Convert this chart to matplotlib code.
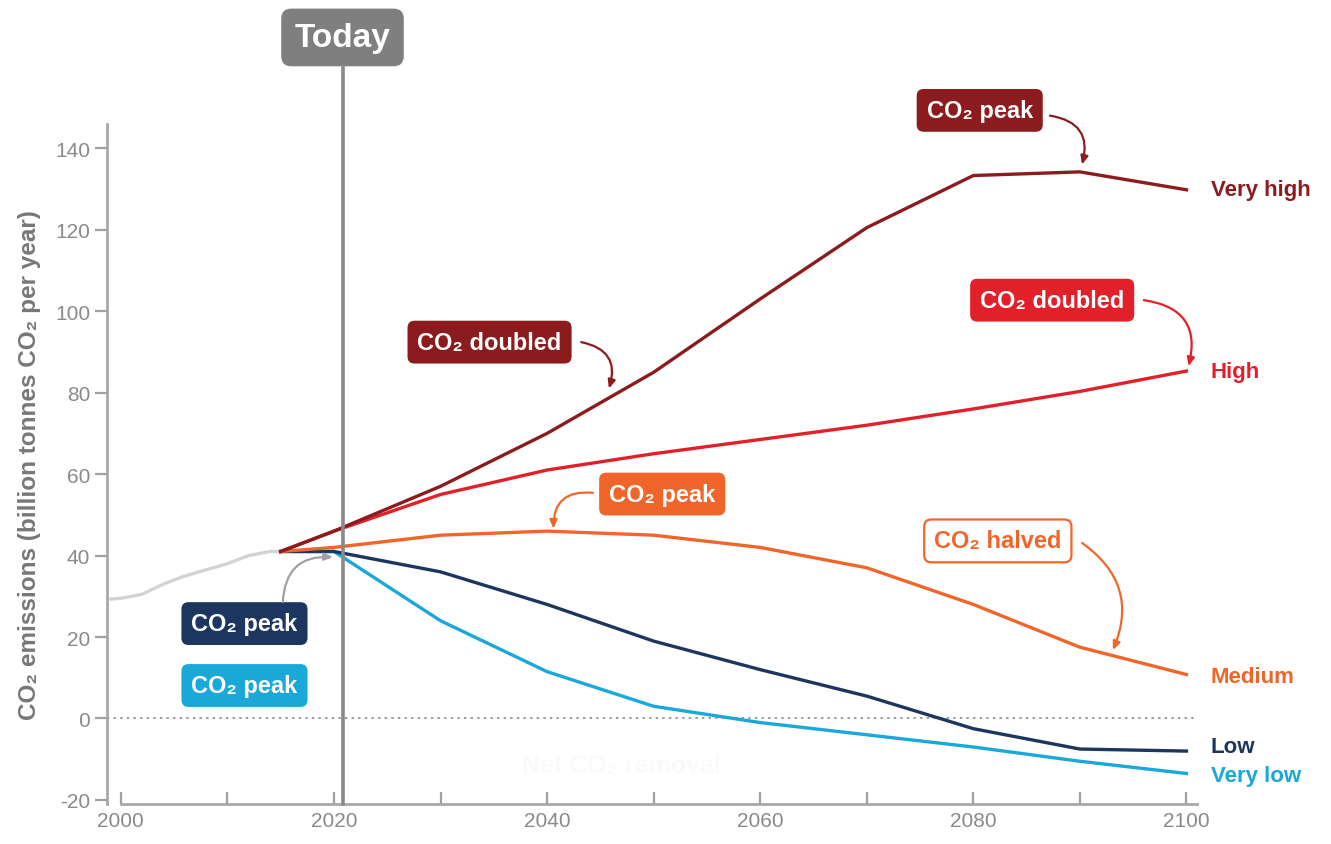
import matplotlib
matplotlib.use("Agg")
import matplotlib.pyplot as plt
from matplotlib.ticker import MultipleLocator

FONT = ['Liberation Sans Narrow', 'Liberation Sans', 'DejaVu Sans']
plt.rcParams['font.family'] = FONT
plt.rcParams['axes.unicode_minus'] = False

# ---------------- data ----------------
hist_years = [1999, 2000, 2002, 2004, 2006, 2008, 2010, 2012, 2014, 2015]
hist_vals = [29.3, 29.5, 30.5, 33.0, 35.0, 36.5, 38.0, 40.0, 41.0, 41.0]

years = [2015, 2020, 2030, 2040, 2050, 2060, 2070, 2080, 2090, 2100]
very_high = [41, 46, 57, 70, 85, 103, 120.5, 133.3, 134.2, 129.8]
high = [41, 46, 55, 61, 65, 68.5, 72, 76, 80.3, 85.3]
medium = [41, 42, 45, 46, 45, 42, 37, 28, 17.5, 10.8]
low = [41, 41, 36, 28, 19, 12, 5.5, -2.5, -7.5, -8]
very_low = [41, 41, 24, 11.5, 3, -1, -4, -7, -10.5, -13.5]

scenario_names = ['Very high', 'High', 'Medium', 'Low', 'Very low']
scenario_vals = [very_high, high, medium, low, very_low]
colors = ['#8C1B1E', '#E2202A', '#F0662A', '#1C365F', '#1AA8D8']
label_y = [129.8, 85.3, 10.3, -6.8, -14]

today_year = 2020.8
xticks = [2000, 2020, 2040, 2060, 2080, 2100]
yticks = [-20, 0, 20, 40, 60, 80, 100, 120, 140]

# ---------------- figure ----------------
fig = plt.figure(figsize=(13.31, 8.45), dpi=100)
ax = fig.add_axes([0.0804, 0.0473, 0.819, 0.805])
ax.set_xlim(1998.7, 2101)
ax.set_ylim(-21, 146)

ax.plot(hist_years, hist_vals, color='#D3D3D3', lw=2.4, solid_capstyle='round', zorder=3)
n = len(scenario_vals)
for i, (vals, c) in enumerate(zip(scenario_vals, colors)):
    ax.plot(years, vals, color=c, lw=2.4, solid_joinstyle='round', zorder=4 + (n - i) * 0.1)

for name, y, c in zip(scenario_names, label_y, colors):
    ax.text(2102.3, y, name, color=c, fontsize=16, fontweight='bold',
            ha='left', va='center', clip_on=False)

# zero line
ax.axhline(0, color='#999999', lw=1.4, ls=(0, (1.2, 2.2)), zorder=1)

# faint text
ax.text(2047, -11.5, 'Net CO₂ removal', color='#FAFAFA', fontsize=18,
        fontweight='bold', ha='center', va='center', zorder=0)

# today line
ax.plot([today_year, today_year], [-21, 160], color='#8A8A8A', lw=2.6,
        clip_on=False, zorder=5)
ax.text(today_year, 167.2, 'Today', color='white', fontsize=24, fontweight='bold',
        ha='center', va='center', clip_on=False,
        bbox=dict(boxstyle='round,pad=0.4,rounding_size=0.3', fc='#7F7F7F', ec='none'))

# spines / ticks
for s in ['top', 'right']:
    ax.spines[s].set_visible(False)
ax.spines['left'].set_color('#A8A8A8')
ax.spines['bottom'].set_color('#A8A8A8')
ax.spines['left'].set_linewidth(2)
ax.spines['bottom'].set_linewidth(2)
ax.spines['bottom'].set_bounds(2000, 2101)
ax.set_xticks(xticks)
ax.xaxis.set_minor_locator(MultipleLocator(10))
ax.set_yticks(yticks)
ax.tick_params(axis='x', direction='in', length=9, width=1.6, color='#A0A0A0',
               labelcolor='#8A8A8A', labelsize=15, pad=5)
ax.tick_params(axis='x', which='minor', direction='in', length=9, width=1.6, color='#A0A0A0')
ax.tick_params(axis='y', direction='out', length=9, width=1.6, color='#A0A0A0',
               labelcolor='#8A8A8A', labelsize=15, pad=3)
ax.set_ylabel('CO₂ emissions (billion tonnes CO₂ per year)', color='#777777',
              fontsize=17.5, fontweight='bold', labelpad=10)

# annotation boxes
def box(x, y, txt, fc, tc='white', ec='none'):
    ax.text(x, y, txt, color=tc, fontsize=17, fontweight='bold', ha='center', va='center',
            clip_on=False, zorder=6,
            bbox=dict(boxstyle='round,pad=0.42,rounding_size=0.3', fc=fc, ec=ec, lw=1.6))

def arrow(x0, y0, x1, y1, c, rad):
    ax.annotate('', xy=(x1, y1), xytext=(x0, y0), zorder=6,
                arrowprops=dict(arrowstyle='-|>,head_length=0.5,head_width=0.22', color=c,
                                lw=1.6, connectionstyle=f'arc3,rad={rad}',
                                shrinkA=0, shrinkB=0))

box(2080.6, 149.3, 'CO₂ peak', colors[0])
arrow(2087.2, 148.0, 2090.2, 136.0, colors[0], -0.55)

box(2034.6, 92.4, 'CO₂ doubled', colors[0])
arrow(2043.2, 92.4, 2045.8, 81.0, colors[0], -0.55)

box(2087.4, 102.7, 'CO₂ doubled', colors[1])
arrow(2096.0, 102.7, 2100.2, 86.5, colors[1], -0.55)

box(2050.8, 55.1, 'CO₂ peak', colors[2])
arrow(2044.3, 55.4, 2040.6, 46.6, colors[2], 0.55)

box(2082.3, 43.6, 'CO₂ halved', 'white', tc=colors[2], ec=colors[2])
arrow(2090.2, 43.1, 2093.1, 16.8, colors[2], -0.4)

box(2011.6, 23.3, 'CO₂ peak', colors[3])
arrow(2015.2, 28.6, 2019.9, 39.6, '#A0A0A0', -0.5)

box(2011.6, 8.1, 'CO₂ peak', colors[4])

fig.savefig('out.png', dpi=100, facecolor='white')
